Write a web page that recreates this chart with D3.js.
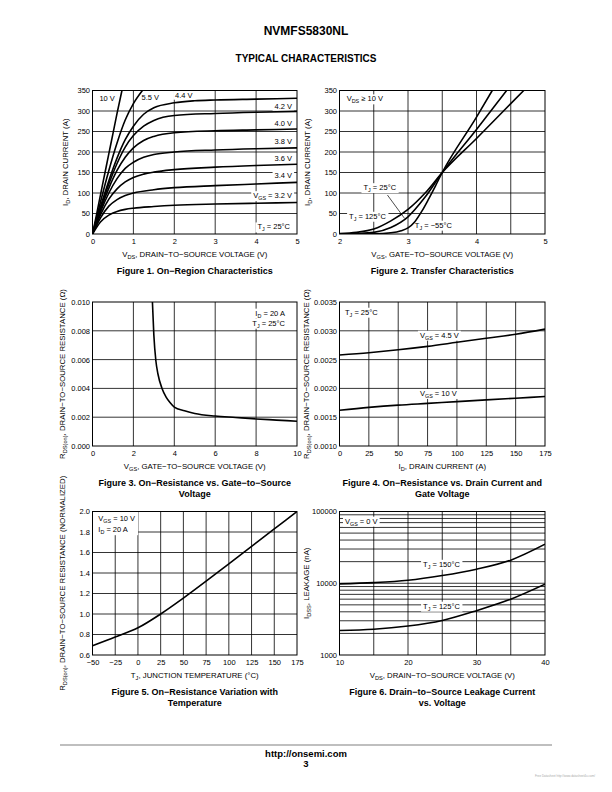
<!DOCTYPE html>
<html><head><meta charset="utf-8">
<script src="https://cdn.jsdelivr.net/npm/d3@7"></script>
<style>body{margin:0;background:#fff}svg{display:block}</style>
</head><body>
<script>
// ---------------- DATA ----------------
// Figure 1: On-Region Characteristics  [VDS (V), ID (A)]
const f1_vgs10 = [[0,0],[0.1,48],[0.2,98],[0.3,147],[0.4,196],[0.5,245],[0.6,294],[0.72,350]];
const f1_vgs55 = [[0,0],[0.2,80],[0.4,155],[0.6,222],[0.8,278],[1.0,318],[1.22,350]];
const f1_vgs44 = [[0,0],[0.2,68],[0.4,130],[0.6,185],[0.8,230],[1.0,263],[1.25,292],[1.5,308],[2,320],[2.5,325],[3,327],[4,329],[5,331]];
const f1_vgs42 = [[0,0],[0.2,65],[0.4,122],[0.6,172],[0.8,212],[1.0,240],[1.25,263],[1.5,277],[2,289],[3,294],[4,297],[5,299]];
const f1_vgs40 = [[0,0],[0.2,60],[0.4,112],[0.6,155],[0.8,187],[1.0,210],[1.25,228],[1.5,238],[2,247],[3,252],[4,254],[5,256]];
const f1_vgs38 = [[0,0],[0.2,55],[0.4,100],[0.6,135],[0.8,160],[1.0,175],[1.25,187],[1.5,194],[2,200],[3,205],[4,208],[5,210]];
const f1_vgs36 = [[0,0],[0.2,48],[0.4,85],[0.6,110],[0.8,127],[1.0,138],[1.25,146],[1.5,151],[2,157],[3,163],[4,167],[5,170]];
const f1_vgs34 = [[0,0],[0.2,40],[0.4,68],[0.6,84],[0.8,94],[1.0,100],[1.5,108],[2,113],[3,118],[4,122],[5,126]];
const f1_vgs32 = [[0,0],[0.2,30],[0.4,46],[0.6,55],[0.8,60],[1.0,63],[1.5,67],[2,70],[3,73],[4,75],[5,77]];
const f1_xTicks = [0,1,2,3,4,5];
const f1_yTicks = [0,50,100,150,200,250,300,350];

// Figure 2: Transfer Characteristics  [VGS (V), ID (A)]
const f2_t125 = [[2,1],[2.25,4],[2.5,12],[2.75,32],[3,60],[3.25,100],[3.5,150],[4,233],[4.5,318],[4.69,350]];
const f2_t25  = [[2,0],[2.25,1],[2.5,4],[2.75,16],[3,42],[3.25,90],[3.5,150],[4,255],[4.44,350]];
const f2_tm55 = [[2,0],[2.5,0.5],[2.75,3],[2.9,8],[3,15],[3.1,30],[3.2,55],[3.3,85],[3.4,117],[3.5,150],[4,285],[4.23,350]];
const f2_xTicks = [2,3,4,5];
const f2_xGrid = [2.5,3,3.5,4,4.5];

// Figure 3: RDS(on) vs VGS  [VGS (V), R (ohm)]
const f3_curve = [[2.93,0.0100],[3.0,0.0077],[3.1,0.0059],[3.2,0.0050],[3.4,0.0040],[3.6,0.0034],[3.8,0.0030],[4.0,0.0027],[4.5,0.00245],[5,0.00226],[6,0.00208],[7,0.00198],[8,0.00188],[9,0.0018],[10,0.00172]];
const f3_xTicks = [0,2,4,6,8,10];
const f3_yTicks = [0,0.002,0.004,0.006,0.008,0.010];

// Figure 4: RDS(on) vs ID
const f4_id    = [0,25,50,75,100,125,150,175];
const f4_vgs45 = [0.00258,0.00262,0.00267,0.00273,0.00280,0.00287,0.00294,0.00303];
const f4_vgs10 = [0.00162,0.00167,0.00171,0.00174,0.00177,0.00180,0.00183,0.00186];
const f4_yTicks = [0.0010,0.0015,0.0020,0.0025,0.0030,0.0035];

// Figure 5: normalized RDS(on) vs TJ
const f5_tj = [-50,-25,0,25,50,75,100,125,150,175];
const f5_r  = [0.69,0.775,0.865,1.0,1.155,1.32,1.49,1.66,1.83,2.0];
const f5_yTicks = [0.6,0.8,1.0,1.2,1.4,1.6,1.8,2.0];

// Figure 6: IDSS leakage vs VDS
const f6_vds  = [10,15,20,25,30,35,40];
const f6_t150 = [9800,10200,11000,12800,15700,21000,35000];
const f6_t125 = [2200,2280,2530,3030,4150,6000,9700];
const f6_xTicks = [10,20,30,40];
const f6_yTicks = [1000,10000,100000];
const f6_yGrid = [2000,3000,4000,5000,6000,7000,8000,9000,10000,20000,30000,40000,50000,60000,70000,80000,90000];

// ---------------- DRAWING ----------------
const FONT = '"Liberation Sans", Arial, Helvetica, sans-serif';
const svg = d3.select("body").append("svg").attr("width",612).attr("height",792)
  .attr("font-family", FONT);
svg.append("rect").attr("width",612).attr("height",792).attr("fill","#fff");

function rich(sel, str, size){
  const parts = str.split(/(_\{[^}]*\})/).filter(s=>s.length);
  let sub=false;
  parts.forEach(p=>{
    if(p.startsWith("_{")){
      sel.append("tspan").attr("font-size", size*0.72).attr("dy", size*0.26).text(p.slice(2,-1));
      sub=true;
    } else {
      const t = sel.append("tspan").text(p);
      if(sub){ t.attr("dy", -size*0.26); sub=false; }
    }
  });
  return sel;
}

let clipN=0;
function panel(c){
  const x = (c.xLog?d3.scaleLog():d3.scaleLinear()).domain(c.xDomain).range([c.left,c.right]);
  const y = (c.yLog?d3.scaleLog():d3.scaleLinear()).domain(c.yDomain).range([c.bottom,c.top]);
  const g = svg.append("g");
  const id = "clip"+(clipN++);
  g.append("clipPath").attr("id",id).append("rect")
    .attr("x",c.left).attr("y",c.top).attr("width",c.right-c.left).attr("height",c.bottom-c.top);
  const grid = g.append("g"), boxes = g.append("g"), curves = g.append("g").attr("clip-path",`url(#${id})`), texts = g.append("g");
  grid.selectAll(".v").data(c.xGrid).join("line")
    .attr("x1",d=>x(d)).attr("x2",d=>x(d)).attr("y1",c.top).attr("y2",c.bottom)
    .attr("stroke","#000").attr("stroke-width",0.8);
  grid.selectAll(".h").data(c.yGrid).join("line")
    .attr("y1",d=>y(d)).attr("y2",d=>y(d)).attr("x1",c.left).attr("x2",c.right)
    .attr("stroke","#000").attr("stroke-width",0.8);
  // axes
  const xa = g.append("g").attr("transform",`translate(0,${c.bottom})`)
    .call(d3.axisBottom(x).tickValues(c.xTicks).tickSize(0).tickPadding(5).tickFormat(c.xFmt));
  const ya = g.append("g").attr("transform",`translate(${c.left},0)`)
    .call(d3.axisLeft(y).tickValues(c.yTicks).tickSize(0).tickPadding(2.5).tickFormat(c.yFmt));
  [xa,ya].forEach(a=>{a.select(".domain").remove(); a.attr("font-family",FONT).attr("font-size",7.5);
    a.selectAll("text").attr("fill","#000");});
  // curves
  const line = d3.line().x(d=>x(d[0])).y(d=>y(d[1])).curve(d3.curveMonotoneX);
  c.series.forEach(s=>{
    curves.append("path").attr("d",line(s)).attr("fill","none").attr("stroke","#000")
      .attr("stroke-width",1.6).attr("stroke-linejoin","round");
  });
  (c.leaders||[]).forEach(l=>{
    texts.append("line").attr("x1",x(l[0])).attr("y1",y(l[1])).attr("x2",x(l[2])).attr("y2",y(l[3]))
      .attr("stroke","#000").attr("stroke-width",0.7);
  });
  // labels
  const lb = [];
  (c.labels||[]).forEach(L=>{
    const t = texts.append("text").attr("x",x(L.x)).attr("y",y(L.y)).attr("dy","0.36em")
      .attr("font-size",7.5).attr("text-anchor",L.anchor||"start").attr("fill","#000");
    rich(t,L.text,7.5);
    const b = t.node().getBBox(); lb.push(b);
    if(!c.cornerBox) boxes.append("rect").attr("x",b.x-2).attr("y",b.y).attr("width",b.width+4).attr("height",b.height).attr("fill","#fff");
  });
  if(c.cornerBox){
    const mx = d3.max(lb,b=>b.x+b.width)+3, my = d3.max(lb,b=>b.y+b.height);
    boxes.append("rect").attr("x",c.left).attr("y",c.top).attr("width",mx-c.left).attr("height",my-c.top).attr("fill","#fff");
  }
  g.append("rect").attr("x",c.left).attr("y",c.top).attr("width",c.right-c.left).attr("height",c.bottom-c.top)
    .attr("fill","none").attr("stroke","#000").attr("stroke-width",1);
  // titles
  const cx = (c.left+c.right)/2, cy=(c.top+c.bottom)/2;
  rich(g.append("text").attr("x",cx).attr("y",c.bottom+23).attr("text-anchor","middle").attr("font-size",7.8).attr("fill","#000"), c.xTitle, 7.8);
  rich(g.append("text").attr("transform",`translate(${c.yTitleX},${cy}) rotate(-90)`).attr("dy","0.36em")
    .attr("text-anchor","middle").attr("font-size",7.8).attr("fill","#000"), c.yTitle, 7.8);
  c.caption.forEach((s,i)=>{
    g.append("text").attr("x",cx).attr("y",c.bottom+39.5+i*11.5).attr("text-anchor","middle")
      .attr("font-size",9).attr("font-weight","bold").attr("fill","#000").text(s);
  });
}

const LX=[92.5,297], RX=[339.5,545], R1=[90.5,234], R2=[302,446], R3=[511.5,655];
const intF = d3.format("d");

panel({left:LX[0],right:LX[1],top:R1[0],bottom:R1[1],xDomain:[0,5],yDomain:[0,350],
  xGrid:[1,2,3,4],yGrid:[50,100,150,200,250,300],xTicks:f1_xTicks,yTicks:f1_yTicks,xFmt:intF,yFmt:intF,
  series:[f1_vgs10,f1_vgs55,f1_vgs44,f1_vgs42,f1_vgs40,f1_vgs38,f1_vgs36,f1_vgs34,f1_vgs32],
  labels:[{x:0.17,y:332,text:"10 V"},{x:1.2,y:334,text:"5.5 V"},{x:2.02,y:339,text:"4.4 V"},
    {x:4.88,y:312,text:"4.2 V",anchor:"end"},{x:4.88,y:270.5,text:"4.0 V",anchor:"end"},
    {x:4.88,y:226.8,text:"3.8 V",anchor:"end"},{x:4.88,y:184,text:"3.6 V",anchor:"end"},
    {x:4.88,y:143.4,text:"3.4 V",anchor:"end"},{x:4.88,y:94,text:"V_{GS} = 3.2 V",anchor:"end"},
    {x:4.83,y:17.7,text:"T_{J} = 25°C",anchor:"end"}],
  xTitle:"V_{DS}, DRAIN−TO−SOURCE VOLTAGE (V)",yTitle:"I_{D}, DRAIN CURRENT (A)",yTitleX:65,
  caption:["Figure 1. On−Region Characteristics"]});

panel({left:RX[0],right:RX[1],top:R1[0],bottom:R1[1],xDomain:[2,5],yDomain:[0,350],
  xGrid:f2_xGrid,yGrid:[50,100,150,200,250,300],xTicks:f2_xTicks,yTicks:f1_yTicks,xFmt:intF,yFmt:intF,
  series:[f2_t125,f2_t25,f2_tm55],
  leaders:[[2.70,95,2.95,38]],
  labels:[{x:2.105,y:330,text:"V_{DS} ≥ 10 V"},{x:2.35,y:113.5,text:"T_{J} = 25°C"},
    {x:2.14,y:43.7,text:"T_{J} = 125°C"},{x:3.10,y:22,text:"T_{J} = −55°C"}],
  xTitle:"V_{GS}, GATE−TO−SOURCE VOLTAGE (V)",yTitle:"I_{D}, DRAIN CURRENT (A)",yTitleX:307,
  caption:["Figure 2. Transfer Characteristics"]});

panel({left:LX[0],right:LX[1],top:R2[0],bottom:R2[1],xDomain:[0,10],yDomain:[0,0.010],
  xGrid:[2,4,6,8],yGrid:[0.002,0.004,0.006,0.008],xTicks:f3_xTicks,yTicks:f3_yTicks,xFmt:intF,yFmt:d3.format(".3f"),
  series:[f3_curve],
  labels:[{x:9.41,y:0.00924,text:"I_{D} = 20 A",anchor:"end"},{x:9.41,y:0.00854,text:"T_{J} = 25°C",anchor:"end"}],
  xTitle:"V_{GS}, GATE−TO−SOURCE VOLTAGE (V)",yTitle:"R_{DS(on)}, DRAIN−TO−SOURCE RESISTANCE (Ω)",yTitleX:62,
  caption:["Figure 3. On−Resistance vs. Gate−to−Source","Voltage"]});

panel({left:RX[0],right:RX[1],top:R2[0],bottom:R2[1],xDomain:[0,175],yDomain:[0.001,0.0035],
  xGrid:[25,50,75,100,125,150],yGrid:[0.0015,0.002,0.0025,0.003],xTicks:f4_id,yTicks:f4_yTicks,xFmt:intF,yFmt:d3.format(".4f"),
  series:[f4_id.map((d,i)=>[d,f4_vgs45[i]]),f4_id.map((d,i)=>[d,f4_vgs10[i]])],
  labels:[{x:4.7,y:0.003326,text:"T_{J} = 25°C"},{x:68.5,y:0.002927,text:"V_{GS} = 4.5 V"},{x:68.5,y:0.001915,text:"V_{GS} = 10 V"}],
  xTitle:"I_{D}, DRAIN CURRENT (A)",yTitle:"R_{DS(on)}, DRAIN−TO−SOURCE RESISTANCE (Ω)",yTitleX:306,
  caption:["Figure 4. On−Resistance vs. Drain Current and","Gate Voltage"]});

panel({left:LX[0],right:LX[1],top:R3[0],bottom:R3[1],xDomain:[-50,175],yDomain:[0.6,2.0],
  xGrid:[-25,0,25,50,75,100,125,150],yGrid:[0.8,1.0,1.2,1.4,1.6,1.8],xTicks:f5_tj,yTicks:f5_yTicks,xFmt:intF,yFmt:d3.format(".1f"),
  series:[f5_tj.map((d,i)=>[d,f5_r[i]])], cornerBox:true,
  labels:[{x:-43.6,y:1.931,text:"V_{GS} = 10 V"},{x:-43.6,y:1.824,text:"I_{D} = 20 A"}],
  xTitle:"T_{J}, JUNCTION TEMPERATURE (°C)",yTitle:"R_{DS(on)}, DRAIN−TO−SOURCE RESISTANCE (NORMALIZED)",yTitleX:62,
  caption:["Figure 5. On−Resistance Variation with","Temperature"]});

panel({left:RX[0],right:RX[1],top:R3[0],bottom:R3[1],xDomain:[10,40],yDomain:[1000,100000],yLog:true,
  xGrid:[15,20,25,30,35],yGrid:f6_yGrid,xTicks:f6_xTicks,yTicks:f6_yTicks,xFmt:intF,yFmt:intF,
  series:[f6_vds.map((d,i)=>[d,f6_t150[i]]),f6_vds.map((d,i)=>[d,f6_t125[i]])],
  labels:[{x:10.8,y:73700,text:"V_{GS} = 0 V"},{x:22.2,y:18500,text:"T_{J} = 150°C"},{x:22.2,y:4820,text:"T_{J} = 125°C"}],
  xTitle:"V_{DS}, DRAIN−TO−SOURCE VOLTAGE (V)",yTitle:"I_{DSS}, LEAKAGE (nA)",yTitleX:306,
  caption:["Figure 6. Drain−to−Source Leakage Current","vs. Voltage"]});

// header / footer
svg.append("text").attr("x",306).attr("y",35.3).attr("text-anchor","middle").attr("font-size",12).attr("font-weight","bold").text("NVMFS5830NL");
svg.append("text").attr("x",306).attr("y",61.8).attr("text-anchor","middle").attr("font-size",10).attr("font-weight","bold").text("TYPICAL CHARACTERISTICS");
svg.append("line").attr("x1",60).attr("x2",552).attr("y1",745).attr("y2",745).attr("stroke","#aaa").attr("stroke-width",1.5);
svg.append("text").attr("x",306).attr("y",756.5).attr("text-anchor","middle").attr("font-size",9.5).attr("font-weight","bold").text("http://onsemi.com");
svg.append("text").attr("x",306).attr("y",766.5).attr("text-anchor","middle").attr("font-size",9.5).attr("font-weight","bold").text("3");
svg.append("text").attr("x",595).attr("y",777).attr("text-anchor","end").attr("font-size",3).attr("fill","#aaa").text("Free Datasheet http://www.datasheet4u.com/");
</script>
</body></html>
